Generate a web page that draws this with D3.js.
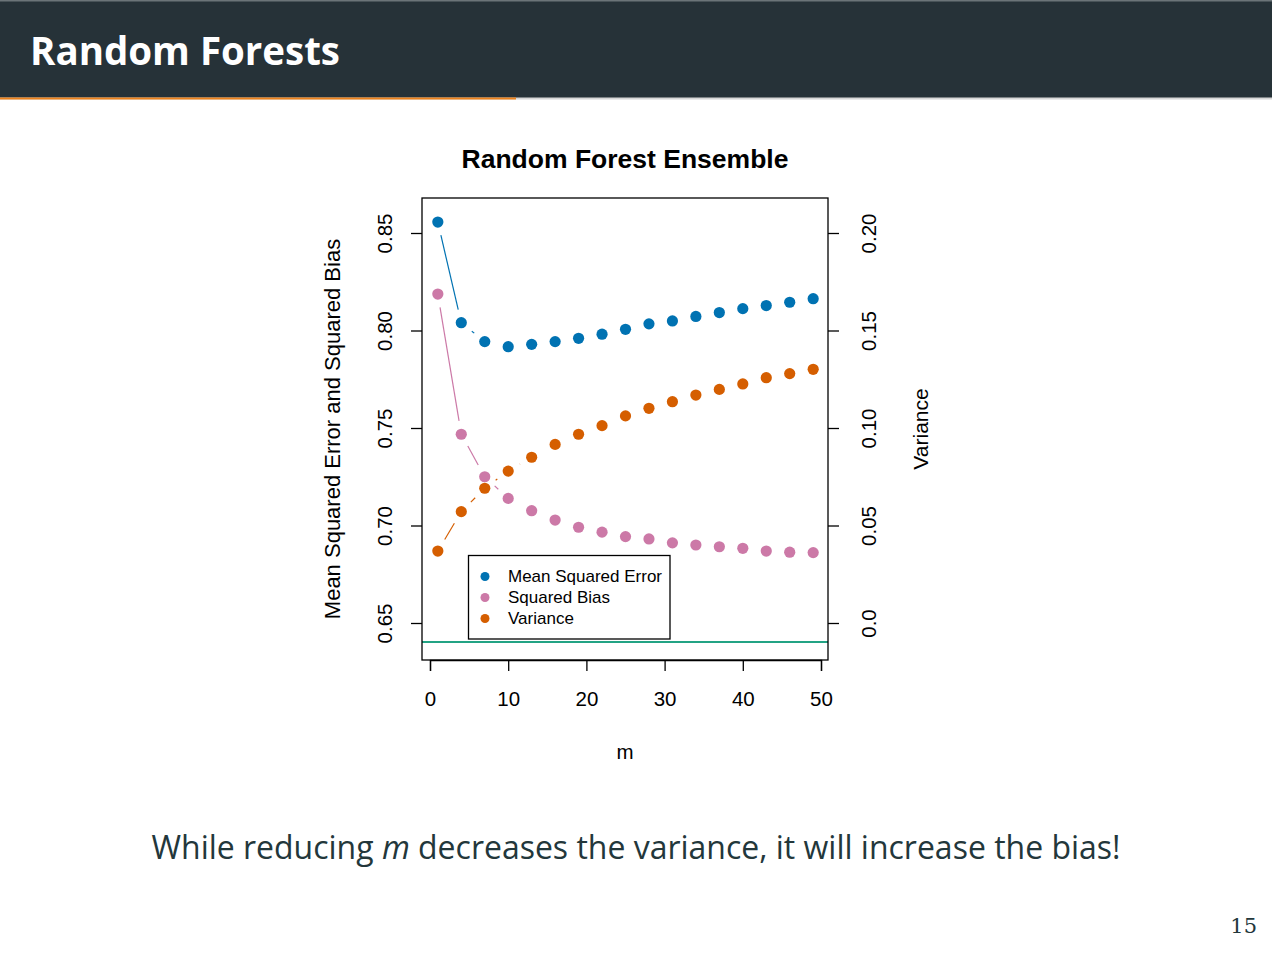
<!DOCTYPE html>
<html>
<head>
<meta charset="utf-8">
<script src="https://cdn.jsdelivr.net/npm/d3@7"></script>
<style>
html,body{margin:0;padding:0;background:#fff;}
svg{display:block;}
</style>
</head>
<body>
<svg id="chart" width="1272" height="958"></svg>
<script>
// ---- data ----
const mValues = [1, 4, 7, 10, 13, 16, 19, 22, 25, 28, 31, 34, 37, 40, 43, 46, 49];
const mseValues = [0.8556, 0.8040, 0.7943, 0.7917, 0.7929, 0.7943, 0.7960, 0.7981, 0.8006, 0.8034, 0.8049, 0.8072, 0.8092, 0.8112, 0.8128, 0.8145, 0.8163];
const biasValues = [0.8187, 0.7468, 0.7250, 0.7139, 0.7076, 0.7028, 0.6991, 0.6966, 0.6943, 0.6931, 0.6911, 0.6900, 0.6891, 0.6883, 0.6869, 0.6863, 0.6861];
const varianceValues = [0.0369, 0.0571, 0.0691, 0.0779, 0.0850, 0.0916, 0.0968, 0.1012, 0.1062, 0.1101, 0.1135, 0.1169, 0.1198, 0.1226, 0.1258, 0.1279, 0.1301];
const referenceLevel = 0.6403;
const xTicks = [0, 10, 20, 30, 40, 50];
const leftTicks = [0.65, 0.70, 0.75, 0.80, 0.85];
const rightTicks = [0.00, 0.05, 0.10, 0.15, 0.20];
const rightTickLabels = ["0.0", "0.05", "0.10", "0.15", "0.20"];
const seriesNames = ["Mean Squared Error", "Squared Bias", "Variance"];
const seriesColors = ["#0072B2", "#CC79A7", "#D55E00"];

// ---- layout ----
const svg = d3.select("#chart");
const W = 1272, H = 958;
const box = {left: 422, right: 828, top: 198, bottom: 660};

// Slide header
svg.append("rect").attr("x", 0).attr("y", 0).attr("width", W).attr("height", 98).attr("fill", "#263238");
svg.append("rect").attr("x", 0).attr("y", 0).attr("width", W).attr("height", 1.5).attr("fill", "#6b7478");
svg.append("rect").attr("x", 0).attr("y", 97.5).attr("width", W).attr("height", 2).attr("fill", "#d6d6d6");
svg.append("rect").attr("x", 0).attr("y", 97.5).attr("width", 516).attr("height", 2).attr("fill", "#EB811B");
svg.append("text").attr("x", 30).attr("y", 65)
  .attr("font-family", "'Open Sans', Lato, sans-serif").attr("font-weight", 700)
  .attr("font-size", 40).attr("fill", "#ffffff")
  .attr("textLength", 310).attr("lengthAdjust", "spacingAndGlyphs")
  .text("Random Forests");

// Scales
const x = d3.scaleLinear().domain([0, 50]).range([430, 821]);
const yL = d3.scaleLinear().domain([0.65, 0.85]).range([623, 233]);
const yR = d3.scaleLinear().domain([0.0, 0.20]).range([623, 233]);

const chartFont = "'Liberation Sans', Arial, Helvetica, sans-serif";

// Title
svg.append("text").attr("x", (box.left + box.right) / 2).attr("y", 168)
  .attr("text-anchor", "middle").attr("font-family", chartFont).attr("font-weight", 700)
  .attr("font-size", 26.5).attr("fill", "#000").text("Random Forest Ensemble");

// Reference line
svg.append("line").attr("x1", box.left).attr("x2", box.right)
  .attr("y1", yL(referenceLevel)).attr("y2", yL(referenceLevel))
  .attr("stroke", "#23a384").attr("stroke-width", 2);

// Series
const series = [
  {vals: mseValues, y: yL, color: seriesColors[0]},
  {vals: biasValues, y: yL, color: seriesColors[1]},
  {vals: varianceValues, y: yR, color: seriesColors[2]}
];
const gap = 13.5;
series.forEach(s => {
  const pts = mValues.map((m, i) => [x(m), s.y(s.vals[i])]);
  const g = svg.append("g");
  for (let i = 0; i < pts.length - 1; i++) {
    const [x0, y0] = pts[i], [x1, y1] = pts[i + 1];
    const d = Math.hypot(x1 - x0, y1 - y0);
    if (d <= 2 * gap) continue;
    const ux = (x1 - x0) / d, uy = (y1 - y0) / d;
    g.append("line")
      .attr("x1", x0 + ux * gap).attr("y1", y0 + uy * gap)
      .attr("x2", x1 - ux * gap).attr("y2", y1 - uy * gap)
      .attr("stroke", s.color).attr("stroke-width", 1.2);
  }
  g.selectAll("circle").data(pts).enter().append("circle")
    .attr("cx", d => d[0]).attr("cy", d => d[1]).attr("r", 5.6)
    .attr("fill", s.color);
});

// Box
svg.append("rect").attr("x", box.left).attr("y", box.top)
  .attr("width", box.right - box.left).attr("height", box.bottom - box.top)
  .attr("fill", "none").attr("stroke", "#000").attr("stroke-width", 1.3);

// X axis
const xAxis = svg.append("g").attr("transform", `translate(0,${box.bottom})`)
  .call(d3.axisBottom(x).tickValues(xTicks).tickSize(11).tickPadding(20).tickFormat(d3.format("d")));
xAxis.select(".domain").attr("stroke", "#000").attr("stroke-width", 1.3);
xAxis.selectAll(".tick line").attr("stroke", "#000").attr("stroke-width", 1.3);
xAxis.selectAll("text").attr("font-family", chartFont).attr("font-size", 20.5).attr("fill", "#000");

// Left axis
const lAxis = svg.append("g").attr("transform", `translate(${box.left},0)`)
  .call(d3.axisLeft(yL).tickValues(leftTicks).tickSize(11).tickFormat(d3.format(".2f")));
lAxis.select(".domain").remove();
lAxis.selectAll(".tick line").attr("stroke", "#000").attr("stroke-width", 1.3);
lAxis.selectAll("text").attr("font-family", chartFont).attr("font-size", 20.5).attr("fill", "#000")
  .attr("x", null).attr("dy", null)
  .attr("text-anchor", "middle")
  .attr("transform", "translate(-38,0) rotate(-90)")
  .attr("dominant-baseline", "central");

// Right axis
const rAxis = svg.append("g").attr("transform", `translate(${box.right},0)`)
  .call(d3.axisRight(yR).tickValues(rightTicks).tickSize(11).tickFormat((d, i) => rightTickLabels[i]));
rAxis.select(".domain").remove();
rAxis.selectAll(".tick line").attr("stroke", "#000").attr("stroke-width", 1.3);
rAxis.selectAll("text").attr("font-family", chartFont).attr("font-size", 20.5).attr("fill", "#000")
  .attr("x", null).attr("dy", null)
  .attr("text-anchor", "middle")
  .attr("transform", "translate(40,0) rotate(-90)")
  .attr("dominant-baseline", "central");

// Axis titles
svg.append("text").attr("x", 625).attr("y", 759).attr("text-anchor", "middle")
  .attr("font-family", chartFont).attr("font-size", 20.5).attr("fill", "#000").text("m");
svg.append("text").attr("transform", "translate(332,429) rotate(-90)")
  .attr("text-anchor", "middle").attr("dominant-baseline", "central")
  .attr("font-family", chartFont).attr("font-size", 22).attr("fill", "#000")
  .text("Mean Squared Error and Squared Bias");
svg.append("text").attr("transform", "translate(920,429) rotate(-90)")
  .attr("text-anchor", "middle").attr("dominant-baseline", "central")
  .attr("font-family", chartFont).attr("font-size", 21).attr("fill", "#000")
  .text("Variance");

// Legend
const leg = svg.append("g");
leg.append("rect").attr("x", 468.5).attr("y", 555.5).attr("width", 201.5).attr("height", 83.5)
  .attr("fill", "#fff").attr("stroke", "#000").attr("stroke-width", 1.3);
const legRows = [576.5, 597.5, 618.5];
seriesNames.forEach((n, i) => {
  leg.append("circle").attr("cx", 485).attr("cy", legRows[i]).attr("r", 4.5).attr("fill", seriesColors[i]);
  leg.append("text").attr("x", 508).attr("y", legRows[i]).attr("dominant-baseline", "central")
    .attr("font-family", chartFont).attr("font-size", 17).attr("fill", "#000").text(n);
});

// Caption
const cap = svg.append("text").attr("x", 636).attr("y", 859).attr("text-anchor", "middle")
  .attr("font-family", "'Open Sans', Lato, sans-serif").attr("font-size", 32).attr("fill", "#23373b")
  .attr("textLength", 969).attr("lengthAdjust", "spacingAndGlyphs");
cap.append("tspan").text("While reducing ");
cap.append("tspan").attr("font-style", "italic").text("m");
cap.append("tspan").text(" decreases the variance, it will increase the bias!");

// Page number
svg.append("text").attr("x", 1257).attr("y", 933).attr("text-anchor", "end")
  .attr("font-family", "'DejaVu Serif', serif").attr("font-size", 21).attr("fill", "#23373b").text("15");
</script>
</body>
</html>
